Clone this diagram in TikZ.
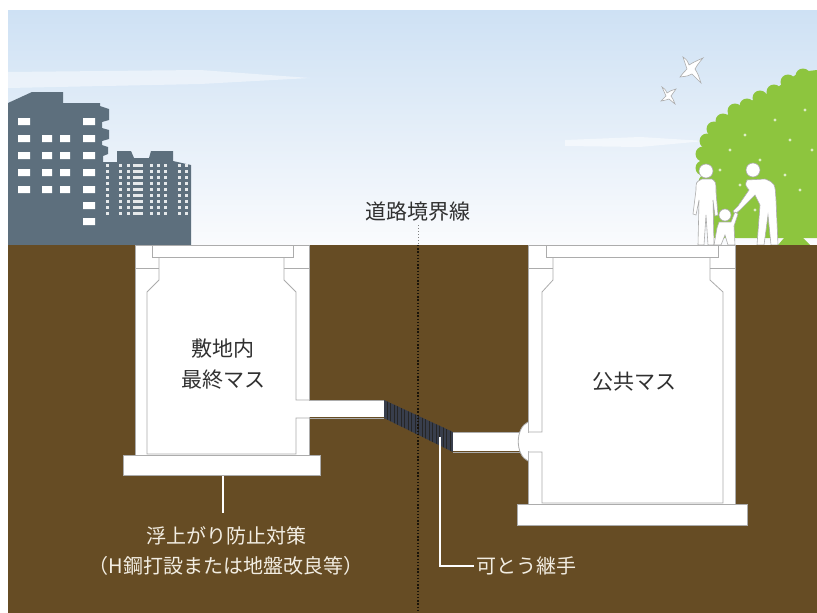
\documentclass[tikz,border=0pt]{standalone}
\usepackage{fontspec}
\newfontfamily\jp{Noto Sans CJK JP}
\usetikzlibrary{positioning}

\definecolor{soil}{RGB}{102,76,36}
\definecolor{skytop}{RGB}{206,225,244}
\definecolor{skylow}{RGB}{250,251,253}
\definecolor{tower}{RGB}{93,111,125}
\definecolor{leaf}{RGB}{141,197,62}
\definecolor{rim}{RGB}{172,172,172}
\definecolor{jointgray}{RGB}{56,62,76}
\definecolor{ink}{RGB}{48,48,48}
\definecolor{cream}{RGB}{242,237,226}

\begin{document}
\begin{tikzpicture}[x=1pt,y=-1pt,
	concrete/.style={fill=white, draw=rim, line width=0.8pt},
	rimline/.style={draw=rim, line width=0.8pt},
	leader/.style={draw=rim, double=white, double distance=1.6pt, line width=0.5pt},
	figure/.style={fill=white, draw=rim, line width=0.6pt},
	boxlabel/.style={font=\jp\fontsize{21}{31}\selectfont, text=ink, align=center},
	soillabel/.style={font=\jp\fontsize{20}{30}\selectfont, text=cream, align=center}]
	\useasboundingbox (0,0) rectangle (817,613);
	\fill[white] (0,0) rectangle (817,613);

	% sky and clouds
	\shade[top color=skytop, bottom color=skylow] (8,10) rectangle (817,245);
	\fill[white, opacity=.45] (8,72) -- (200,70) -- (310,78) -- (200,84) -- (8,88) -- cycle;
	\fill[white, opacity=.5] (565,140) -- (640,137) -- (705,141) -- (640,147) -- (565,146) -- cycle;

	% buildings
	\fill[tower] (8,245) -- (8,103) -- (32,92) -- (63,92) -- (63,103) -- (100,103)
		-- (100,106) -- (109,109) -- (109,120) -- (102,122) -- (102,128) -- (109,130)
		-- (109,139) -- (102,141) -- (102,145) -- (108,147) -- (108,154) -- (103,156)
		-- (103,162) -- (117,162) -- (117,151) -- (131,151) -- (134,158) -- (149,158)
		-- (151,151) -- (173,151) -- (173,161) -- (191,165) -- (191,245) -- cycle;
	\foreach \y in {118,135,152,169,186}
		\fill[white] (18,\y) rectangle ++(12,7) (83,\y) rectangle ++(12,7);
	\foreach \y in {135,152,169,186}
		\fill[white] (42,\y) rectangle ++(10,7) (60,\y) rectangle ++(10,7);
	\fill[white] (83,202) rectangle ++(12,7) (83,218) rectangle ++(12,7);
	\foreach \y in {164,170,...,212}{
		\foreach \x in {106,119,127,150,157,164,178,185}
			\fill[white, opacity=.85] (\x,\y) rectangle ++(3,2.5);
		\fill[white, opacity=.85] (133,\y) rectangle ++(10,2.5);
	}

	% tree and people
	\begin{scope}
		\clip (690,60) rectangle (817,245);
		\fill[leaf] (817,70) -- (800,72) -- (772,91) -- (747,103) -- (722,118) -- (705,138)
			-- (700,165) -- (708,200) -- (714,238) -- (817,238) -- cycle;
		\foreach \p in {(803,76),(788,82),(774,92),(760,98),(747,106),(735,111),(723,121),
				(714,129),(707,141),(703,154),(703,168),(706,182),(709,196),(712,210)}
			\fill[leaf] \p circle (7.5);
		\fill[leaf] (784,238) -- (788,205) -- (799,205) -- (803,238) -- (810,245) -- (778,245) -- cycle;
		\foreach \p in {(730,150),(745,135),(760,160),(790,140),(805,110),(775,120),
				(740,185),(800,190),(720,170),(785,175),(812,150),(755,210)}
			\fill[white, opacity=.7] \p circle (1.6);
	\end{scope}
	\fill[figure] (702,179) -- (712,179) .. controls (716,182) .. (716,192) -- (718,215)
		-- (715,216) -- (713,200) -- (714,245) -- (708,245) -- (706,215) -- (704,245)
		-- (698,245) -- (699,200) -- (696,215) -- (693,214) -- (696,190)
		.. controls (696,182) .. (702,179) -- cycle;
	\fill[figure] (706,171) circle (7);
	\fill[figure] (747,180) -- (765,179) .. controls (775,183) .. (776,200) -- (778,245)
		-- (771,245) -- (768,215) -- (764,245) -- (757,245) -- (760,205) -- (755,195)
		-- (740,210) -- (735,214) -- (733,211) -- (738,206) -- (749,190)
		.. controls (745,185) .. (747,180) -- cycle;
	\fill[figure] (753,170) circle (7);
	\fill[figure] (719,222) -- (731,222) -- (735,212) -- (738,214) -- (734,226) -- (735,245)
		-- (728,245) -- (725,235) -- (721,245) -- (714,245) -- (717,228) -- cycle;
	\fill[figure] (725,215) circle (6);

	% birds
	\fill[figure] (683,57) .. controls (687,60) .. (689,65) .. controls (694,62) .. (703,58)
		.. controls (698,64) .. (695,69) .. controls (698,74) .. (701,83)
		.. controls (696,79) .. (692,74) .. controls (688,76) .. (680,77)
		.. controls (684,72) .. (687,69) .. controls (685,63) .. (683,57) -- cycle;
	\fill[figure] (662,87) .. controls (665,89) .. (667,93) .. controls (670,91) .. (676,89)
		.. controls (673,93) .. (671,96) .. controls (673,99) .. (675,104)
		.. controls (672,102) .. (669,99) .. controls (666,100) .. (661,101)
		.. controls (664,98) .. (666,96) .. controls (664,92) .. (662,87) -- cycle;

	% ground
	\fill[soil] (8,245) rectangle (817,613);

	% 敷地内最終マス
	\draw[concrete] (123,455) rectangle (320,475);
	\draw[concrete] (135,245) rectangle (309,455);
	\draw[concrete] (152,245) rectangle (293,257);
	\draw[rimline] (159,257) -- (159,280) -- (147,292) -- (147,454) -- (296,454)
		-- (296,418) -- (309,418);
	\draw[rimline] (309,400) -- (296,400) -- (296,292) -- (284,280) -- (284,257);
	\draw[rimline] (135,268) -- (159,268) (284,268) -- (309,268);
	\fill[white] (297,401) rectangle (384,417);
	\draw[rimline] (309,400) -- (384,400) (309,418) -- (384,418);

	% 公共マス
	\draw[concrete] (517,504) rectangle (747,525);
	\draw[concrete] (528,245) rectangle (735,504);
	\draw[concrete] (546,245) rectangle (718,257);
	\draw[rimline] (553,257) -- (553,280) -- (542,292) -- (542,432) -- (528,432);
	\draw[rimline] (528,452) -- (542,452) -- (542,503) -- (723,503) -- (723,292)
		-- (710,280) -- (710,257);
	\draw[rimline] (528,268) -- (553,268) (710,268) -- (735,268);
	\fill[white] (453,433) rectangle (541,451);
	\draw[rimline] (453,432) -- (528,432) (453,452) -- (528,452);
	\draw[concrete] (528,422) .. controls (515,428) and (515,455) .. (528,461);

	% flexible joint
	\begin{scope}
		\clip (384,400) -- (453,432) -- (453,452) -- (384,418) -- cycle;
		\fill[jointgray] (384,400) rectangle (453,452);
		\foreach \x in {387,390.5,...,453}
			\draw[black!85, line width=.5pt] (\x,400) -- (\x,452);
	\end{scope}

	% boundary line
	\node[boxlabel] (border) at (418,212) {道路境界線};
	\draw[gray, line width=1pt, dash pattern=on 1.2pt off 1.8pt] (border.south) -- (418,245);
	\draw[black!75!soil, line width=1.4pt, dash pattern=on 1.4pt off 1.8pt] (418,245) -- (418,613);

	% labels
	\node[boxlabel] (ownbox) at (223,364) {敷地内\\最終マス};
	\node[boxlabel] (publicbox) at (634,382) {公共マス};
	\node[soillabel] (float) at (226,551) {浮上がり防止対策\\（H鋼打設または地盤改良等）};
	\node[soillabel, anchor=west, inner sep=2pt] (flex) at (474,566) {可とう継手};

	\coordinate (slab) at (223,476);
	\coordinate (slabfoot) at (223,513);
	\coordinate (jointfoot) at (440,437);
	\draw[leader] (slab) -- (slabfoot);
	\draw[leader] (jointfoot) |- (flex.west);
\end{tikzpicture}
\end{document}
